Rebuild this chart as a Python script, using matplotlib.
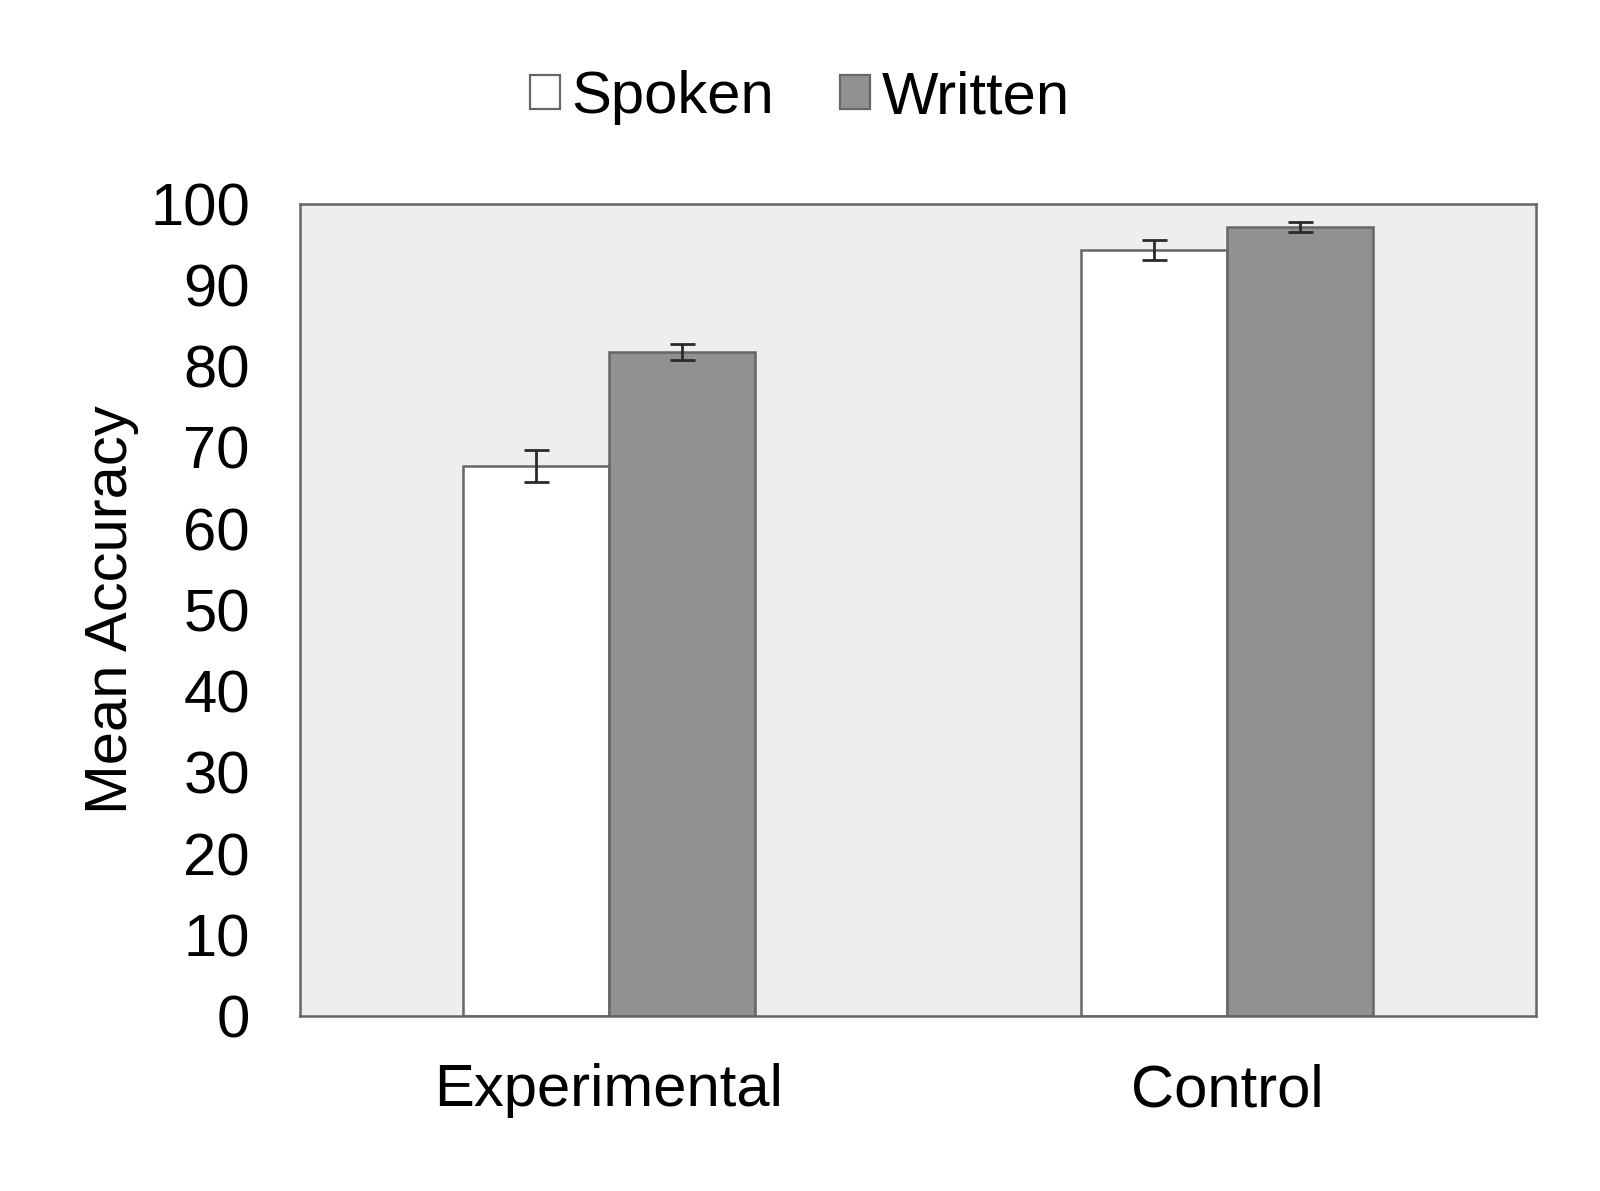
import matplotlib
matplotlib.use('Agg')
import matplotlib.pyplot as plt
from matplotlib.patches import Patch
import numpy as np

plt.rcParams['font.family'] = ['Liberation Sans', 'DejaVu Sans']

# data
groups = ['Experimental', 'Control']
spoken = [67.7, 94.3]
spoken_err = [2.0, 1.25]
written = [81.7, 97.1]
written_err = [1.0, 0.65]
yticks = [0, 10, 20, 30, 40, 50, 60, 70, 80, 90, 100]

fig = plt.figure(figsize=(16, 11.91), dpi=100)
ax = fig.add_axes([0.1875, 0.1469, 0.7725, 0.6822])

x = np.arange(len(groups))
w = 0.237
edge = '#666666'
errkw = dict(ecolor='#2a2a2a', elinewidth=2.0, capsize=9, capthick=2.0)

ax.bar(x - w/2, spoken, w, yerr=spoken_err, color='white', edgecolor=edge,
       linewidth=1.8, error_kw=errkw, zorder=2)
ax.bar(x + w/2, written, w, yerr=written_err, color='#919191', edgecolor=edge,
       linewidth=1.8, error_kw=errkw, zorder=2)

ax.set_facecolor('#eeeeee')
ax.set_xlim(-0.5, 1.5)
ax.set_ylim(0, 100)
ax.set_yticks(yticks)
ax.set_xticks(x)
ax.set_xticklabels(groups)
ax.tick_params(axis='both', length=0, labelsize=43)
ax.tick_params(axis='y', pad=36)
ax.tick_params(axis='x', pad=34)
for s in ax.spines.values():
    s.set_color(edge)
    s.set_linewidth(1.8)

ax.set_ylabel('Mean Accuracy', fontsize=43)
ax.yaxis.set_label_coords(-0.13, 0.5)

handles = [Patch(facecolor='white', edgecolor=edge, linewidth=1.6),
           Patch(facecolor='#919191', edgecolor=edge, linewidth=1.6)]
fig.legend(handles, ['Spoken', 'Written'], loc='center', bbox_to_anchor=(0.5, 0.918),
           ncol=2, frameon=False, fontsize=43, handlelength=0.5, handleheight=0.5,
           handletextpad=0.2, columnspacing=1.1)

fig.savefig('out.png', dpi=100)
